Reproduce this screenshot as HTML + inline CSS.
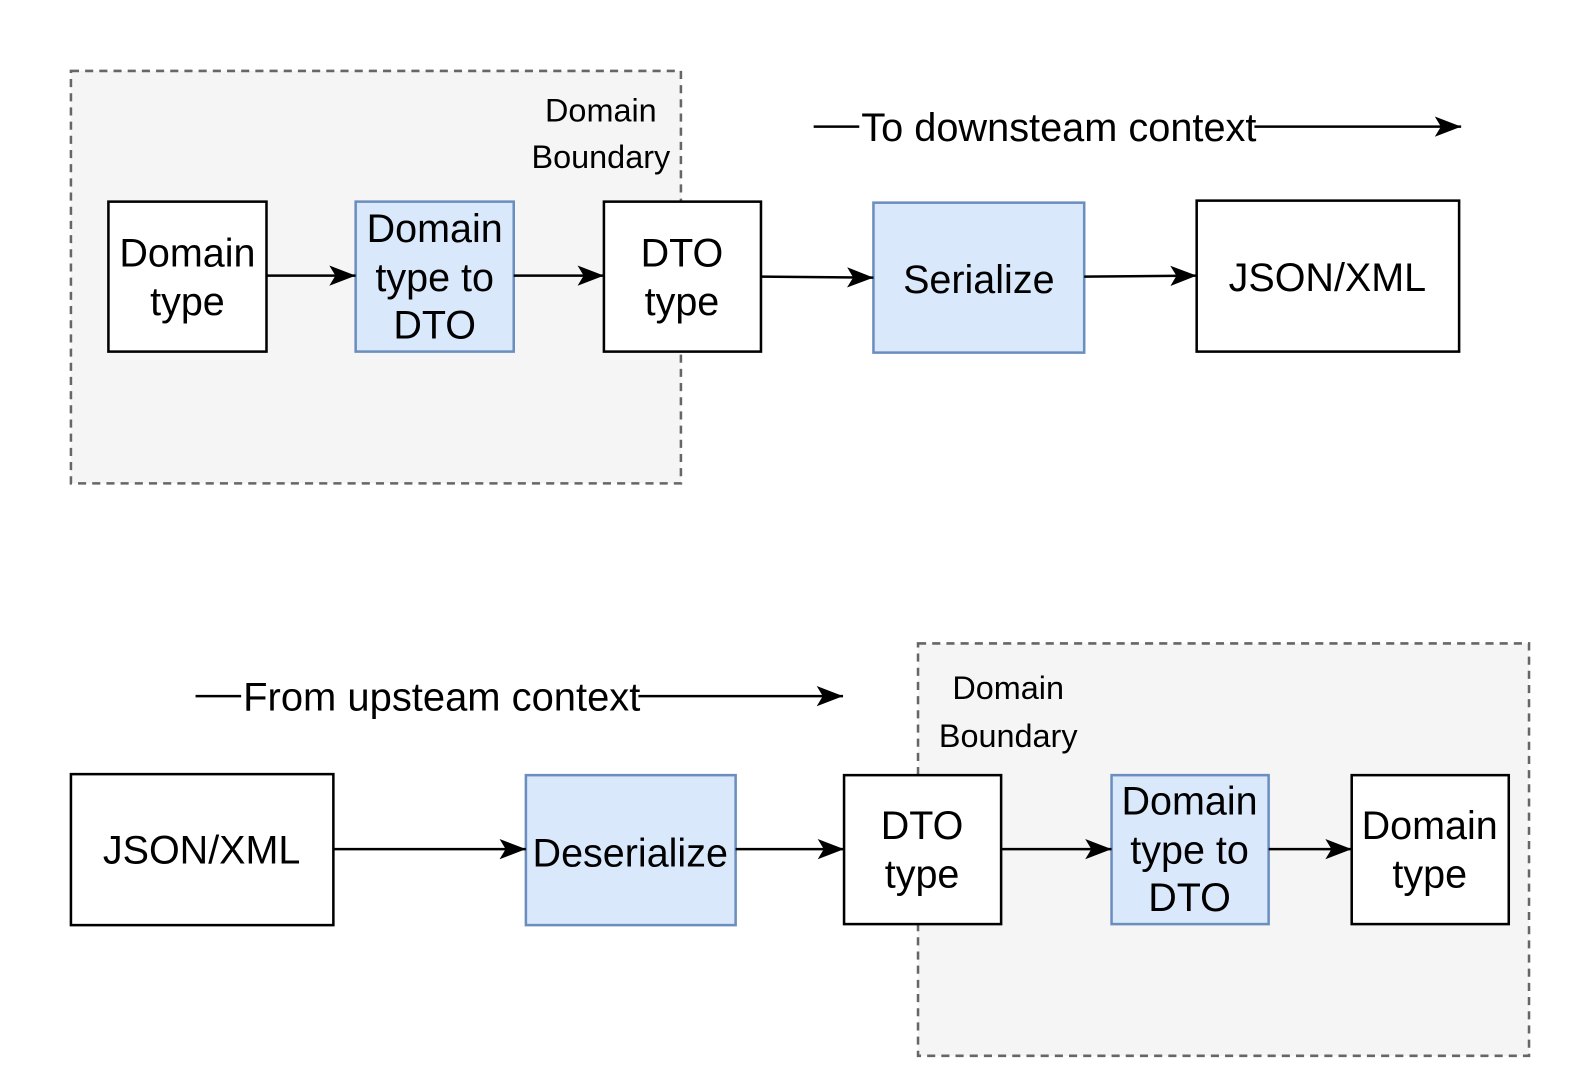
<!DOCTYPE html>
<html><head><meta charset="utf-8"><style>
html,body{margin:0;padding:0;background:#fff;}
svg{display:block;}
text{font-family:"Liberation Sans",sans-serif;fill:#000;}
</style></head><body>
<svg width="1588" height="1092" viewBox="0 0 1567.2 1077.7" preserveAspectRatio="none" xmlns="http://www.w3.org/2000/svg">
<defs>
<marker id="ah" markerWidth="30" markerHeight="24" refX="28" refY="12" orient="auto" markerUnits="userSpaceOnUse">
<path d="M2,2 L28,12 L2,22 L8,12 Z" fill="#000"/>
</marker>
</defs>
<!-- top boundary -->
<rect x="70" y="70" width="602" height="407" fill="#f5f5f5" stroke="#666" stroke-width="2.5" stroke-dasharray="8,6"/>
<text x="593" y="120" font-size="32" text-anchor="middle">Domain</text>
<text x="593" y="166" font-size="32" text-anchor="middle">Boundary</text>

<g stroke-width="2.5">
<rect x="107" y="199" width="156" height="148" fill="#fff" stroke="#000"/>
<rect x="351" y="199" width="156" height="148" fill="#dae8fc" stroke="#6c8ebf"/>
<rect x="596" y="199" width="155" height="148" fill="#fff" stroke="#000"/>
<rect x="862" y="200" width="208" height="148" fill="#dae8fc" stroke="#6c8ebf"/>
<rect x="1181" y="198" width="259" height="149" fill="#fff" stroke="#000"/>
</g>
<g font-size="39" text-anchor="middle">
<text x="185" y="263">Domain</text><text x="185" y="311">type</text>
<text x="429" y="239">Domain</text><text x="429" y="287">type to</text><text x="429" y="334">DTO</text>
<text x="673" y="263">DTO</text><text x="673" y="311">type</text>
<text x="966" y="289">Serialize</text>
<text x="1310" y="287">JSON/XML</text>
</g>
<g stroke="#000" stroke-width="2.5" fill="none" marker-end="url(#ah)">
<line x1="263" y1="272" x2="351" y2="272"/>
<line x1="507" y1="272" x2="596" y2="272"/>
<line x1="751" y1="273" x2="862" y2="274"/>
<line x1="1070" y1="273" x2="1181" y2="272"/>
<line x1="1238" y1="125" x2="1442" y2="125"/>
</g>
<line x1="803" y1="125" x2="848" y2="125" stroke="#000" stroke-width="2.5"/>
<text x="850" y="139" font-size="39" textLength="390" lengthAdjust="spacingAndGlyphs">To downsteam context</text>

<!-- bottom boundary -->
<rect x="906" y="635" width="603" height="407" fill="#f5f5f5" stroke="#666" stroke-width="2.5" stroke-dasharray="8,6"/>
<text x="995" y="690" font-size="32" text-anchor="middle">Domain</text>
<text x="995" y="737" font-size="32" text-anchor="middle">Boundary</text>

<g stroke-width="2.5">
<rect x="70" y="764" width="259" height="149" fill="#fff" stroke="#000"/>
<rect x="519" y="765" width="207" height="148" fill="#dae8fc" stroke="#6c8ebf"/>
<rect x="833" y="765" width="155" height="147" fill="#fff" stroke="#000"/>
<rect x="1097" y="765" width="155" height="147" fill="#dae8fc" stroke="#6c8ebf"/>
<rect x="1334" y="765" width="155" height="147" fill="#fff" stroke="#000"/>
</g>
<g font-size="39" text-anchor="middle">
<text x="199" y="852">JSON/XML</text>
<text x="622" y="855">Deserialize</text>
<text x="910" y="828">DTO</text><text x="910" y="876">type</text>
<text x="1174" y="804">Domain</text><text x="1174" y="852">type to</text><text x="1174" y="899">DTO</text>
<text x="1411" y="828">Domain</text><text x="1411" y="876">type</text>
</g>
<g stroke="#000" stroke-width="2.5" fill="none" marker-end="url(#ah)">
<line x1="329" y1="838" x2="519" y2="838"/>
<line x1="726" y1="838" x2="833" y2="838"/>
<line x1="988" y1="838" x2="1097" y2="838"/>
<line x1="1252" y1="838" x2="1334" y2="838"/>
<line x1="630" y1="687" x2="832" y2="687"/>
</g>
<line x1="193" y1="687" x2="238" y2="687" stroke="#000" stroke-width="2.5"/>
<text x="240" y="701" font-size="39" textLength="392" lengthAdjust="spacingAndGlyphs">From upsteam context</text>
</svg>
</body></html>
